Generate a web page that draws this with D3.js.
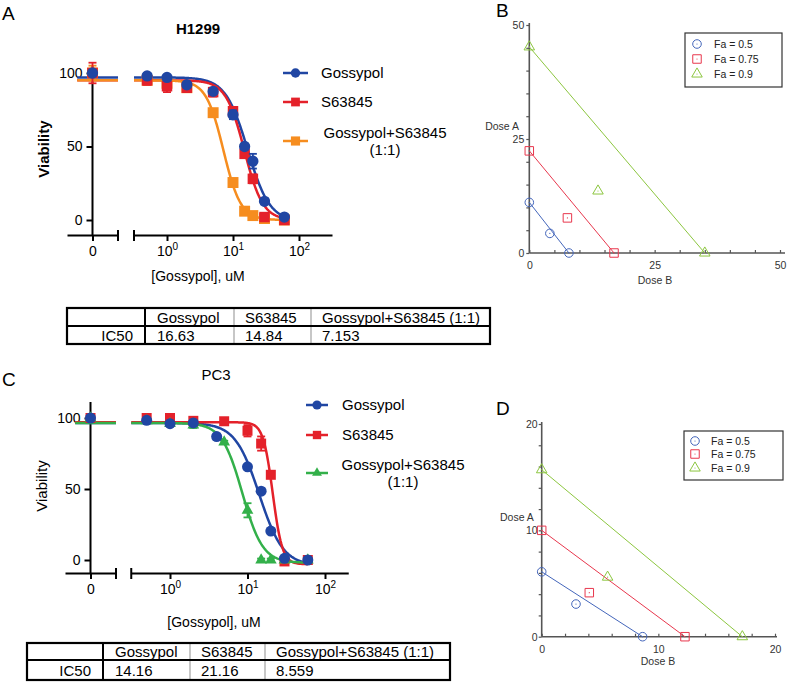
<!DOCTYPE html>
<html><head><meta charset="utf-8">
<script src="https://cdn.jsdelivr.net/npm/d3@7"></script>
<style>body{margin:0;background:#fff}svg{display:block}text{font-family:"Liberation Sans",Arial,Helvetica,sans-serif}</style>
</head><body><svg id="c" width="787" height="684"></svg>
<script>
// ---------------- DATA ----------------
const seriesNames = ["Gossypol", "S63845", "Gossypol+S63845"];
const tableHeaders = ["Gossypol", "S63845", "Gossypol+S63845 (1:1)"];

// Panel A: H1299
const h1299Doses = [0, 0.5, 1, 2, 5, 10, 15, 20, 30, 60];
const h1299Gossypol = [100, 98, 97, 92, 87.5, 71.6, 50, 40, 12.7, 2];
const h1299GossypolSem = [0, 2, 1, 2, 2, 3, 2, 5, 2, 1];
const h1299S63845 = [100, 95, 91, 90, 87, 74, 45, 28, 2, 0];
const h1299S63845Sem = [7, 3, 4, 3, 3, 2, 2, 3, 1, 1];
const h1299Combo = [100, 95, 93, 90, 73, 25.5, 6, 3, 1, 0];
const h1299ComboSem = [5, 2, 2, 2, 2, 2, 1, 1, 1, 1];
const h1299IC50 = [16.63, 14.84, 7.153];
const h1299Top = [97, 95, 95];
const h1299Bottom = [-1, 0, 0];
const h1299Hill = [2.6, 3.1, 3.3];

// Panel C: PC3
const pc3GossypolDoses = [0, 0.5, 1, 2, 4, 10, 15, 20, 30, 60];
const pc3Doses = [0, 0.5, 1, 2, 5, 10, 15, 20, 30, 60];
const pc3Gossypol = [100, 98.4, 96, 96.5, 86.9, 65.6, 48.5, 20.4, 1.2, 0];
const pc3GossypolSem = [0, 1, 1, 1, 2, 1, 2, 1, 1, 1];
const pc3S63845 = [100, 100, 100, 98, 97.7, 91, 82, 60, -1, 0];
const pc3S63845Sem = [1, 2, 1, 1, 1, 4, 5, 2, 1, 1];
const pc3Combo = [100, 98, 96, 95, 83, 35, 0, 0, 0, 0];
const pc3ComboSem = [0, 1, 1, 2, 1, 5, 1, 1, 0, 0];
const pc3IC50 = [14.16, 21.16, 8.559];
const pc3Top = [96.5, 97, 96.5];
const pc3Bottom = [-4, -3, -2];
const pc3Hill = [2.8, 7, 3.3];

// Isobolograms
const faLabels = ["Fa = 0.5", "Fa = 0.75", "Fa = 0.9"];
const isoBDoseB = [[0, 4.1, 7.9], [0, 7.6, 16.9], [0, 13.7, 35]];
const isoBDoseA = [[11.1, 4.3, 0], [22.4, 7.7, 0], [45.2, 13.6, 0]];
const isoDDoseB = [[0, 2.94, 8.65], [0, 4.08, 12.28], [0, 5.65, 17.2]];
const isoDDoseA = [[6.1, 3.07, 0], [10.0, 4.14, 0], [15.7, 5.6, 0]];

// ---------------- DRAWING ----------------
const svg = d3.select("#c");
const BLUE = "#2046a3", RED = "#e4212a", ORANGE = "#f68d1f", GREEN = "#33b04a";
const ISO_COLORS = ["#4466bb", "#e8374d", "#8cc63f"];
const FS = 15;

function panelLabel(t, x, y) {
  svg.append("text").attr("x", x).attr("y", y).attr("font-size", 19).text(t);
}
panelLabel("A", 2, 20); panelLabel("B", 496, 17); panelLabel("C", 2, 386); panelLabel("D", 496, 415);

function sym(shape) {
  return shape === "circle" ? d3.symbolCircle : shape === "square" ? d3.symbolSquare : d3.symbolTriangle;
}

function drawDR(cfg) {
  const g = svg.append("g");
  const y = d3.scaleLinear().domain([0, 100]).range([cfg.y0, cfg.y100]);
  const xz = d3.scaleLinear().domain([-1, 1]).range(cfg.zeroRange);
  const xl = d3.scaleLog().domain(cfg.logDomain).range(cfg.logRange);
  const ax = xz(0);

  // Y axis
  g.append("line").attr("x1", ax).attr("x2", ax).attr("y1", cfg.yTop).attr("y2", cfg.axisY)
    .attr("stroke", "#000").attr("stroke-width", 2);
  const ya = g.append("g").attr("transform", `translate(${ax},0)`)
    .call(d3.axisLeft(y).tickValues([0, 50, 100]).tickSize(6).tickPadding(4));
  ya.select(".domain").remove();
  ya.selectAll("line").attr("stroke", "#000").attr("stroke-width", 2);
  ya.selectAll("text").attr("font-size", 14).attr("font-family", null).attr("fill", "#000");

  // X axis, zero segment
  const xa0 = g.append("g").attr("transform", `translate(0,${cfg.axisY})`)
    .call(d3.axisBottom(xz).tickValues([0]).tickFormat(d3.format("d")).tickSize(6).tickSizeOuter(0).tickPadding(5));
  xa0.select(".domain").attr("stroke-width", 2);
  xa0.selectAll("line").attr("stroke-width", 2);
  xa0.selectAll("text").attr("font-size", 14).attr("font-family", null);
  g.append("line").attr("x1", cfg.zeroRange[1]).attr("x2", cfg.zeroRange[1])
    .attr("y1", cfg.axisY - 5).attr("y2", cfg.axisY + 6).attr("stroke", "#000").attr("stroke-width", 2);

  // X axis, log segment
  const xa1 = g.append("g").attr("transform", `translate(0,${cfg.axisY})`)
    .call(d3.axisBottom(xl).tickValues([1, 10, 100]).tickSize(6).tickSizeOuter(0).tickPadding(5));
  xa1.select(".domain").attr("stroke-width", 2);
  xa1.selectAll("line").attr("stroke-width", 2);
  xa1.selectAll(".tick text").attr("font-size", 14).attr("font-family", null).each(function(d) {
    const t = d3.select(this); t.text("10");
    t.append("tspan").attr("dy", -6).attr("font-size", 10).text(Math.round(Math.log10(d)));
  });
  g.append("line").attr("x1", cfg.logRange[0]).attr("x2", cfg.logRange[0])
    .attr("y1", cfg.axisY - 5).attr("y2", cfg.axisY + 6).attr("stroke", "#000").attr("stroke-width", 2);

  // axis titles
  g.append("text").attr("x", cfg.xTitle[0]).attr("y", cfg.xTitle[1]).attr("text-anchor", "middle")
    .attr("font-size", 14).text("[Gossypol], uM");
  g.append("text").attr("transform", `translate(${cfg.yTitle[0]},${cfg.yTitle[1]}) rotate(-90)`)
    .attr("text-anchor", "middle").attr("font-size", 15).attr("font-weight", cfg.bold ? "bold" : "normal").text("Viability");
  g.append("text").attr("x", cfg.title[0]).attr("y", cfg.title[1]).attr("text-anchor", "middle")
    .attr("font-size", 15).attr("font-weight", cfg.bold ? "bold" : "normal").text(cfg.titleText);

  // curves (4-parameter logistic fits using listed parameters)
  const lo = cfg.logDomain[0] * 1.0, hi = cfg.curveEnd;
  const xsamp = d3.range(0, 241).map(i => lo * Math.pow(hi / lo, i / 240));
  cfg.series.forEach(s => {
    const f = xv => s.bottom + (s.top - s.bottom) / (1 + Math.pow(xv / s.ic50, s.hill));
    g.append("path").datum(xsamp).attr("fill", "none").attr("stroke", s.color).attr("stroke-width", 2.5)
      .attr("d", d3.line().x(d => xl(d)).y(d => y(f(d))));
    g.append("line").attr("x1", xz(-0.6)).attr("x2", cfg.zeroRange[1]).attr("y1", y(s.top)).attr("y2", y(s.top))
      .attr("stroke", s.color).attr("stroke-width", 2.5);
  });

  // points with error bars (drawn in given order)
  cfg.drawOrder.forEach(i => {
    const s = cfg.series[i];
    const px = d => d === 0 ? xz(0) : xl(d);
    s.values.forEach((v, k) => {
      const X = px(s.doses[k]);
      if (s.sem[k] > 0) {
        const y1 = y(v + s.sem[k]), y2 = y(v - s.sem[k]);
        g.append("line").attr("x1", X).attr("x2", X).attr("y1", y1).attr("y2", y2).attr("stroke", s.color).attr("stroke-width", 1.8);
        [y1, y2].forEach(yy => g.append("line").attr("x1", X - 4).attr("x2", X + 4).attr("y1", yy).attr("y2", yy)
          .attr("stroke", s.color).attr("stroke-width", 1.8));
      }
      g.append("path").attr("transform", `translate(${X},${y(v)})`)
        .attr("d", d3.symbol().type(sym(s.shape)).size(s.size)()).attr("fill", s.color);
    });
  });

  // legend
  const L = cfg.legend;
  cfg.series.forEach((s, i) => {
    const yy = L.rows[i];
    g.append("line").attr("x1", L.line[0]).attr("x2", L.line[1]).attr("y1", yy).attr("y2", yy)
      .attr("stroke", s.color).attr("stroke-width", 2.5);
    g.append("path").attr("transform", `translate(${(L.line[0] + L.line[1]) / 2},${yy})`)
      .attr("d", d3.symbol().type(sym(s.shape)).size(s.size * 0.7)()).attr("fill", s.color);
    if (i < 2) {
      g.append("text").attr("x", L.textX).attr("y", yy + 5).attr("font-size", FS).text(seriesNames[i]);
    } else {
      g.append("text").attr("x", L.comboX).attr("y", L.comboY[0]).attr("text-anchor", "middle").attr("font-size", FS).text(seriesNames[i]);
      g.append("text").attr("x", L.comboX).attr("y", L.comboY[1]).attr("text-anchor", "middle").attr("font-size", FS).text("(1:1)");
    }
  });
}

function drawTable(cfg, values) {
  const g = svg.append("g");
  const [c0, c1, c2, c3, c4] = cfg.cols;
  const [r0, r1, r2] = cfg.rows;
  g.append("line").attr("x1", c2).attr("x2", c2).attr("y1", r0).attr("y2", r2).attr("stroke", "#b5b5b5").attr("stroke-width", 1.5);
  g.append("line").attr("x1", c3).attr("x2", c3).attr("y1", r0).attr("y2", r2).attr("stroke", "#b5b5b5").attr("stroke-width", 1.5);
  g.append("line").attr("x1", c1).attr("x2", c1).attr("y1", r0).attr("y2", r2).attr("stroke", "#000").attr("stroke-width", 2);
  g.append("line").attr("x1", c0).attr("x2", c4).attr("y1", r1).attr("y2", r1).attr("stroke", "#000").attr("stroke-width", 2);
  g.append("rect").attr("x", c0).attr("y", r0).attr("width", c4 - c0).attr("height", r2 - r0)
    .attr("fill", "none").attr("stroke", "#000").attr("stroke-width", 2.2);
  const tx = [c1 + 12, c2 + 11, c3 + 11];
  const b1 = (r0 + r1) / 2 + 5.5, b2 = (r1 + r2) / 2 + 5.5;
  tableHeaders.forEach((h, i) => g.append("text").attr("x", tx[i]).attr("y", b1).attr("font-size", FS).text(h));
  values.forEach((v, i) => g.append("text").attr("x", tx[i]).attr("y", b2).attr("font-size", FS).text(String(v)));
  g.append("text").attr("x", c1 - 12).attr("y", b2).attr("text-anchor", "end").attr("font-size", FS).text("IC50");
}

function drawIso(cfg) {
  const g = svg.append("g");
  const x = d3.scaleLinear().domain([0, cfg.max]).range([cfg.x0, cfg.x1]);
  const y = d3.scaleLinear().domain([0, cfg.max]).range([cfg.y0, cfg.y1]);
  const AX = "#555";
  g.append("line").attr("x1", cfg.x0).attr("x2", cfg.xEnd).attr("y1", cfg.y0).attr("y2", cfg.y0).attr("stroke", AX).attr("stroke-width", 1.6);
  g.append("line").attr("x1", cfg.x0).attr("x2", cfg.x0).attr("y1", cfg.yEnd).attr("y2", cfg.y0).attr("stroke", AX).attr("stroke-width", 1.6);
  const ticks = d3.range(0, cfg.max + 0.001, cfg.step);
  const fmt = d => cfg.labels.includes(d) ? String(d) : "";
  const ya = g.append("g").attr("transform", `translate(${cfg.x0},0)`)
    .call(d3.axisLeft(y).tickValues(ticks).tickSize(3).tickPadding(cfg.yPad).tickFormat(fmt));
  ya.select(".domain").remove();
  ya.selectAll("line").attr("stroke", AX).attr("stroke-width", 1.2);
  ya.selectAll("text").attr("font-size", 10.5).attr("font-family", null).attr("fill", "#333");
  const xa = g.append("g").attr("transform", `translate(0,${cfg.y0})`)
    .call(d3.axisBottom(x).tickValues(ticks).tickSize(-3).tickPadding(cfg.xPad).tickFormat(fmt));
  xa.select(".domain").remove();
  xa.selectAll("line").attr("stroke", AX).attr("stroke-width", 1.2);
  xa.selectAll("text").attr("font-size", 10.5).attr("font-family", null).attr("fill", "#333");

  g.append("text").attr("x", cfg.doseA[0]).attr("y", cfg.doseA[1]).attr("text-anchor", cfg.doseA[2])
    .attr("font-size", 10.5).attr("fill", "#333").text("Dose A");
  g.append("text").attr("x", cfg.doseB[0]).attr("y", cfg.doseB[1]).attr("text-anchor", "middle")
    .attr("font-size", 10.5).attr("fill", "#333").text("Dose B");

  const shapes = ["circle", "square", "triangle"];
  const sizes = [58, 72, 48];
  cfg.doseBs.forEach((bs, i) => {
    const as = cfg.doseAs[i];
    const c = ISO_COLORS[i];
    g.append("line").attr("x1", x(bs[0])).attr("y1", y(as[0])).attr("x2", x(bs[2])).attr("y2", y(as[2]))
      .attr("stroke", c).attr("stroke-width", 1);
    bs.forEach((b, k) => {
      g.append("path").attr("transform", `translate(${x(b)},${y(as[k])})`)
        .attr("d", d3.symbol().type(sym(shapes[i])).size(sizes[i])()).attr("fill", "none").attr("stroke", c).attr("stroke-width", 1);
      g.append("circle").attr("cx", x(b)).attr("cy", y(as[k])).attr("r", 0.6).attr("fill", c);
    });
  });
  // legend
  const L = cfg.legend;
  g.append("rect").attr("x", L.box[0]).attr("y", L.box[1]).attr("width", L.box[2] - L.box[0]).attr("height", L.box[3] - L.box[1])
    .attr("fill", "#fff").attr("stroke", "#333").attr("stroke-width", 1.2);
  faLabels.forEach((t, i) => {
    const yy = L.rows[i];
    g.append("path").attr("transform", `translate(${L.mx},${yy})`)
      .attr("d", d3.symbol().type(sym(shapes[i])).size(sizes[i])()).attr("fill", "none").attr("stroke", ISO_COLORS[i]).attr("stroke-width", 1);
    g.append("circle").attr("cx", L.mx).attr("cy", yy).attr("r", 0.6).attr("fill", ISO_COLORS[i]);
    g.append("text").attr("x", L.tx).attr("y", yy + 4).attr("font-size", 10.5).attr("fill", "#222").text(t);
  });
}

// ---- Panel A ----
drawDR({
  y0: 220, y100: 73, yTop: 65, axisY: 235,
  zeroRange: [67, 118], logDomain: [Math.pow(10, -0.5), Math.pow(10, 2.5)], logRange: [134, 332],
  curveEnd: 65, xTitle: [198, 281], yTitle: [49, 149], title: [198, 34], titleText: "H1299", bold: true,
  series: [
    {doses: h1299Doses, values: h1299Gossypol, sem: h1299GossypolSem, color: BLUE, shape: "circle", size: 100,
     ic50: h1299IC50[0], top: h1299Top[0], bottom: h1299Bottom[0], hill: h1299Hill[0]},
    {doses: h1299Doses, values: h1299S63845, sem: h1299S63845Sem, color: RED, shape: "square", size: 110,
     ic50: h1299IC50[1], top: h1299Top[1], bottom: h1299Bottom[1], hill: h1299Hill[1]},
    {doses: h1299Doses, values: h1299Combo, sem: h1299ComboSem, color: ORANGE, shape: "square", size: 120,
     ic50: h1299IC50[2], top: h1299Top[2], bottom: h1299Bottom[2], hill: h1299Hill[2]}
  ],
  drawOrder: [2, 1, 0],
  legend: {line: [283, 308], rows: [73, 102, 141], textX: 321, comboX: 385, comboY: [138, 155]}
});
drawTable({cols: [67, 145, 234, 311, 490], rows: [308, 326, 344]}, h1299IC50);

// ---- Panel C ----
drawDR({
  y0: 560, y100: 418, yTop: 402, axisY: 573,
  zeroRange: [65, 116], logDomain: [Math.pow(10, -0.5), Math.pow(10, 2.3)], logRange: [131.25, 348.25],
  curveEnd: 60, xTitle: [214, 627], yTitle: [47, 486], title: [216, 380], titleText: "PC3", bold: false,
  series: [
    {doses: pc3GossypolDoses, values: pc3Gossypol, sem: pc3GossypolSem, color: BLUE, shape: "circle", size: 95,
     ic50: pc3IC50[0], top: pc3Top[0], bottom: pc3Bottom[0], hill: pc3Hill[0]},
    {doses: pc3Doses, values: pc3S63845, sem: pc3S63845Sem, color: RED, shape: "square", size: 100,
     ic50: pc3IC50[1], top: pc3Top[1], bottom: pc3Bottom[1], hill: pc3Hill[1]},
    {doses: pc3Doses, values: pc3Combo, sem: pc3ComboSem, color: GREEN, shape: "triangle", size: 60,
     ic50: pc3IC50[2], top: pc3Top[2], bottom: pc3Bottom[2], hill: pc3Hill[2]}
  ],
  drawOrder: [1, 2, 0],
  legend: {line: [306, 328], rows: [405, 435, 473], textX: 342, comboX: 403, comboY: [470, 487]}
});
drawTable({cols: [27, 103, 190, 265, 450], rows: [643, 660, 680]}, pc3IC50);

// ---- Panel B ----
drawIso({
  max: 50, step: 5, labels: [0, 25, 50], x0: 529.3, x1: 780, y0: 253, y1: 25, xEnd: 785, yEnd: 23,
  yPad: 2, xPad: 9, doseA: [519, 130, "end"], doseB: [655, 284],
  doseBs: isoBDoseB, doseAs: isoBDoseA,
  legend: {box: [685, 33, 782, 87], mx: 697, tx: 714, rows: [44, 59, 74]}
});
// ---- Panel D ----
drawIso({
  max: 20, step: 2, labels: [0, 10, 20], x0: 541.7, x1: 775, y0: 636.7, y1: 424, xEnd: 777, yEnd: 422,
  yPad: 1, xPad: 9, doseA: [500, 521, "start"], doseB: [658, 665],
  doseBs: isoDDoseB, doseAs: isoDDoseA,
  legend: {box: [684, 431, 783, 480], mx: 695, tx: 711, rows: [441, 454, 468]}
});
</script></body></html>
